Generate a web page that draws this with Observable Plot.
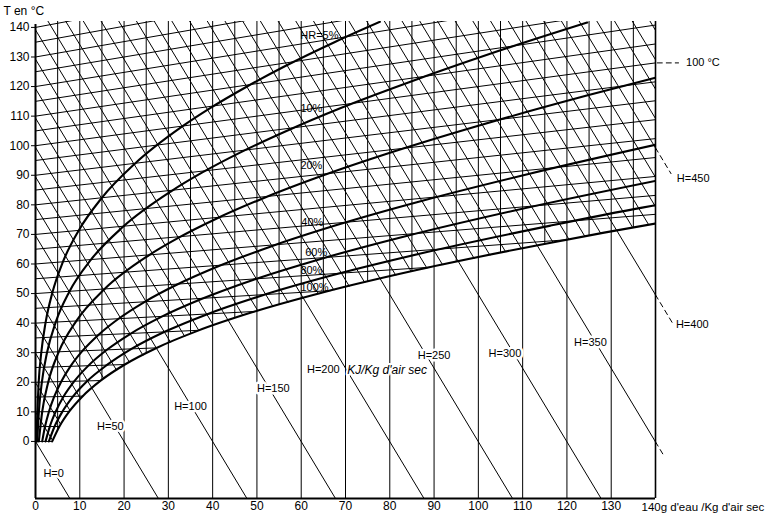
<!DOCTYPE html>
<html><head><meta charset="utf-8">
<script src="https://cdn.jsdelivr.net/npm/d3@7"></script>
<script src="https://cdn.jsdelivr.net/npm/@observablehq/plot@0.6"></script>
<style>body{margin:0;background:#fff}</style>
</head><body><div id="chart"></div>
<script>
// ---- data ----
const xTicks = [0,10,20,30,40,50,60,70,80,90,100,110,120,130];
const yTicks = [0,10,20,30,40,50,60,70,80,90,100,110,120,130,140];
const xUnit = "140g d'eau /Kg d'air sec";
const yTitle = "T en °C";

// relative humidity curves: water content (g/kg) and temperature reading
const rh100X = [3.77,5.40,7.63,10.65,14.70,20.08,27.20,36.58,48.89,65.05,86.33,114.6,128.4,140];
const rh100Y = [0,5.05,10.14,15.3,20.55,25.93,31.52,37.38,43.64,50.44,58.03,66.7,70.6,73.7];
const rh80X = [3.02,4.31,6.09,8.49,11.70,16.0,21.58,28.92,38.51,50.97,67.2,88.4,116.3,137.0,140];
const rh80Y = [0,5.04,10.11,15.24,20.44,25.7,31.2,36.9,42.87,49.27,56.25,64.04,72.98,79.05,79.85];
const rh60X = [2.26,3.23,4.56,6.34,8.73,11.89,16.05,21.44,28.4,37.46,49.1,64.02,83.32,108.2,140];
const rh60Y = [0,5.03,10.08,15.18,20.3,25.55,30.9,36.4,42.1,48.14,54.6,61.55,69.3,78.1,88.1];
const rh40X = [1.51,2.15,3.03,4.22,5.80,7.88,10.60,14.13,18.68,24.48,31.88,41.27,53.17,68.2,87.37,111.8,140];
const rh40Y = [0,5.02,10.06,15.12,20.2,25.37,30.6,35.92,41.39,47.05,52.96,59.22,65.93,73.24,81.38,90.6,100.3];
const rh20X = [0.75,1.51,2.885,5.257,9.20,15.54,25.5,32.33,40.82,51.3,64.22,80.21,100.0,124.7,140];
const rh20Y = [0,10.03,20.11,30.29,40.68,51.45,62.85,68.9,75.31,82.16,89.56,97.68,106.74,117.03,123.0];
const rh10X = [0.376,0.755,1.44,2.62,4.57,7.67,12.49,19.76,30.53,37.68,46.29,56.67,69.09,84.2,102.5,124.6];
const rh10Y = [0,10.0,20.05,30.15,40.34,50.71,61.39,72.57,84.5,90.96,97.75,105.0,112.85,121.4,131.0,141.66];
const rh5X = [0.188,0.719,1.306,2.275,3.814,6.184,9.73,14.9,22.31,32.74,39.43,47.37,56.63,67.62,77.76];
const rh5Y = [0,20.03,30.07,40.17,50.35,60.69,71.27,82.22,93.74,106.09,112.7,119.69,127.11,135.09,141.9];

const rhNames = ["HR=5%","10%","20%","40%","60%","80%","100%"];
const rhLabelX = [64.1,62.3,62.3,62.5,63.4,62.3,63.0];
const rhLabelY = [137.3,112.6,93.3,74.1,63.9,57.8,52.1];

// grid: isotherms (°C), enthalpy lines (kJ/kg), water-content verticals (g/kg)
const isoT = [0,5,10,15,20,25,30,35,40,45,50,55,60,65,70,75,80,85,90,95,100,105,110,115,120,125,130,135,140];
const enthalpyH = [0,10,20,30,40,50,60,70,80,90,100,110,120,130,140,150,160,170,180,190,200,210,220,230,240,250,260,270,280,290,300,310,320,330,340,350,360,370,380,390,400,410,420,430,440,450,460,470,480,490];
const gridX = [5,10,15,20,25,30,35,40,45,50,55,60,65,70,75,80,85,90,95,100,105,110,115,120,125,130,135];

// enthalpy labels
const hLabelH = [0,50,100,150,200,250,300,350,400,450];
const hLabelX = [4.1,16.9,35,53.7,65,90,106,125.3,148.3,148.5];
const hLabelY = [-10.8,5.1,11.8,17.9,24.3,29.1,29.8,33.5,39.6,88.9];
const hUnit = "KJ/Kg d'air sec";
const hUnitX = 70.4, hUnitY = 24.0;
const hExtH = [350,400,450];
const hExtEnd = [142,144,143.5];
const isoLabelT = 100;

// chart constants (Mollier construction)
const CP_AIR = 1.006, L0 = 2.501, ISO_TILT = 0.002;
const X_MAX = 140, Y_MIN = -19.3, Y_MAX = 142;

// ---- geometry helpers ----
const isoY = (t, x) => t * (1 + ISO_TILT * x);
const hY = (h, x) => (h - L0 * x) / CP_AIR;
function satY(x) {
  const X = rh100X, Y = rh100Y;
  if (x < X[0]) return -Infinity;
  for (let i = 1; i < X.length; i++) if (x <= X[i]) return Y[i-1] + (Y[i]-Y[i-1]) * (x - X[i-1]) / (X[i] - X[i-1]);
  return Y[Y.length-1];
}
function cross(f) {
  let prev = 0;
  for (let x = 0; x <= X_MAX + 1e-9; x += 0.1) {
    if (f(x) <= satY(x)) {
      let a = prev, b = x;
      for (let k = 0; k < 40; k++) { const m = (a+b)/2; if (f(m) <= satY(m)) b = m; else a = m; }
      return b;
    }
    prev = x;
  }
  return X_MAX;
}

const gridRows = [];
isoT.forEach(t => {
  const xe = cross(x => isoY(t, x));
  gridRows.push({id: "t"+t, x: 0, y: isoY(t, 0)}, {id: "t"+t, x: xe, y: isoY(t, xe)});
});
enthalpyH.forEach(h => {
  const xe = (h % 50 === 0) ? X_MAX : cross(x => hY(h, x));
  gridRows.push({id: "h"+h, x: 0, y: hY(h, 0)}, {id: "h"+h, x: xe, y: hY(h, xe)});
});
const vRows = gridX.map(x => ({x, y1: (x % 10 === 0) ? Y_MIN : satY(x), y2: Y_MAX}));

const curves = [[rh5X,rh5Y],[rh10X,rh10Y],[rh20X,rh20Y],[rh40X,rh40Y],[rh60X,rh60Y],[rh80X,rh80Y],[rh100X,rh100Y]];
const rhRows = [];
curves.forEach(([X, Y], i) => X.forEach((x, j) => rhRows.push({id: rhNames[i], x, y: Y[j]})));
const rhLabelRows = rhNames.map((n, i) => ({n, x: rhLabelX[i], y: rhLabelY[i]}));

const extRows = [];
hExtH.forEach((h, i) => extRows.push({id: h, x: X_MAX, y: hY(h, X_MAX)}, {id: h, x: hExtEnd[i], y: hY(h, hExtEnd[i])}));
const isoLeadY = isoY(isoLabelT, X_MAX);
const hLabelRows = hLabelH.map((h, i) => ({t: "H=" + h, x: hLabelX[i], y: hLabelY[i]}));

const font = "'Liberation Sans', Arial, Helvetica, sans-serif";

const chart = Plot.plot({
  width: 773, height: 514,
  marginLeft: 35, marginRight: 118, marginTop: 21, marginBottom: 16,
  x: {domain: [0, X_MAX]},
  y: {domain: [Y_MIN, Y_MAX]},
  style: {fontFamily: font, background: "white", color: "black", overflow: "visible"},
  marks: [
    Plot.line(gridRows, {x: "x", y: "y", z: "id", stroke: "black", strokeWidth: 1, clip: true}),
    Plot.ruleX(vRows, {x: "x", y1: "y1", y2: "y2", stroke: "black", strokeWidth: 1, clip: true}),
    Plot.line(rhRows, {x: "x", y: "y", z: "id", stroke: "black", strokeWidth: 2.1, curve: "monotone-x", clip: true}),
    // frame
    Plot.ruleX([0], {y1: Y_MIN, y2: 141, stroke: "black", strokeWidth: 2}),
    Plot.ruleX([X_MAX], {y1: Y_MIN, y2: Y_MAX, stroke: "black", strokeWidth: 1.6}),
    Plot.ruleY([Y_MIN], {x1: 0, x2: X_MAX, stroke: "black", strokeWidth: 2}),
    // dashed leaders outside the frame
    Plot.line(extRows, {x: "x", y: "y", z: "id", stroke: "black", strokeWidth: 1, strokeDasharray: "5,4"}),
    Plot.line([{x: 140.4, y: isoLeadY}, {x: 145.2, y: isoLeadY}], {x: "x", y: "y", stroke: "black", strokeWidth: 1, strokeDasharray: "5,4"}),
    Plot.text([isoLabelT + " °C"], {x: 146.9, y: isoLeadY, text: d => d, textAnchor: "start", fontSize: 11, fill: "black"}),
    // axes
    Plot.axisY(yTicks, {tickSize: 4, tickPadding: 2, fontSize: 12, label: null}),
    Plot.axisX(xTicks, {tickSize: 0, tickPadding: 3, fontSize: 12, label: null}),
    Plot.text([xUnit], {x: X_MAX, y: Y_MIN, text: d => d, textAnchor: "start", dx: -14, dy: 9, fontSize: 11.5, fill: "black"}),
    Plot.text([yTitle], {frameAnchor: "top-left", text: d => d, textAnchor: "start", dx: -32, dy: -15, fontSize: 12, fill: "black"}),
    // labels
    Plot.text(hLabelRows, {x: "x", y: "y", text: "t", fontSize: 11, fill: "black", stroke: "white", strokeWidth: 5, paintOrder: "stroke"}),
    Plot.text([hUnit], {x: hUnitX, y: hUnitY, text: d => d, textAnchor: "start", fontSize: 12, fontStyle: "italic", fill: "black", stroke: "white", strokeWidth: 4, paintOrder: "stroke"}),
    Plot.text(rhLabelRows, {x: "x", y: "y", text: "n", fontSize: 11, fill: "black"})
  ]
});
document.getElementById("chart").appendChild(chart);
</script>
</body></html>
